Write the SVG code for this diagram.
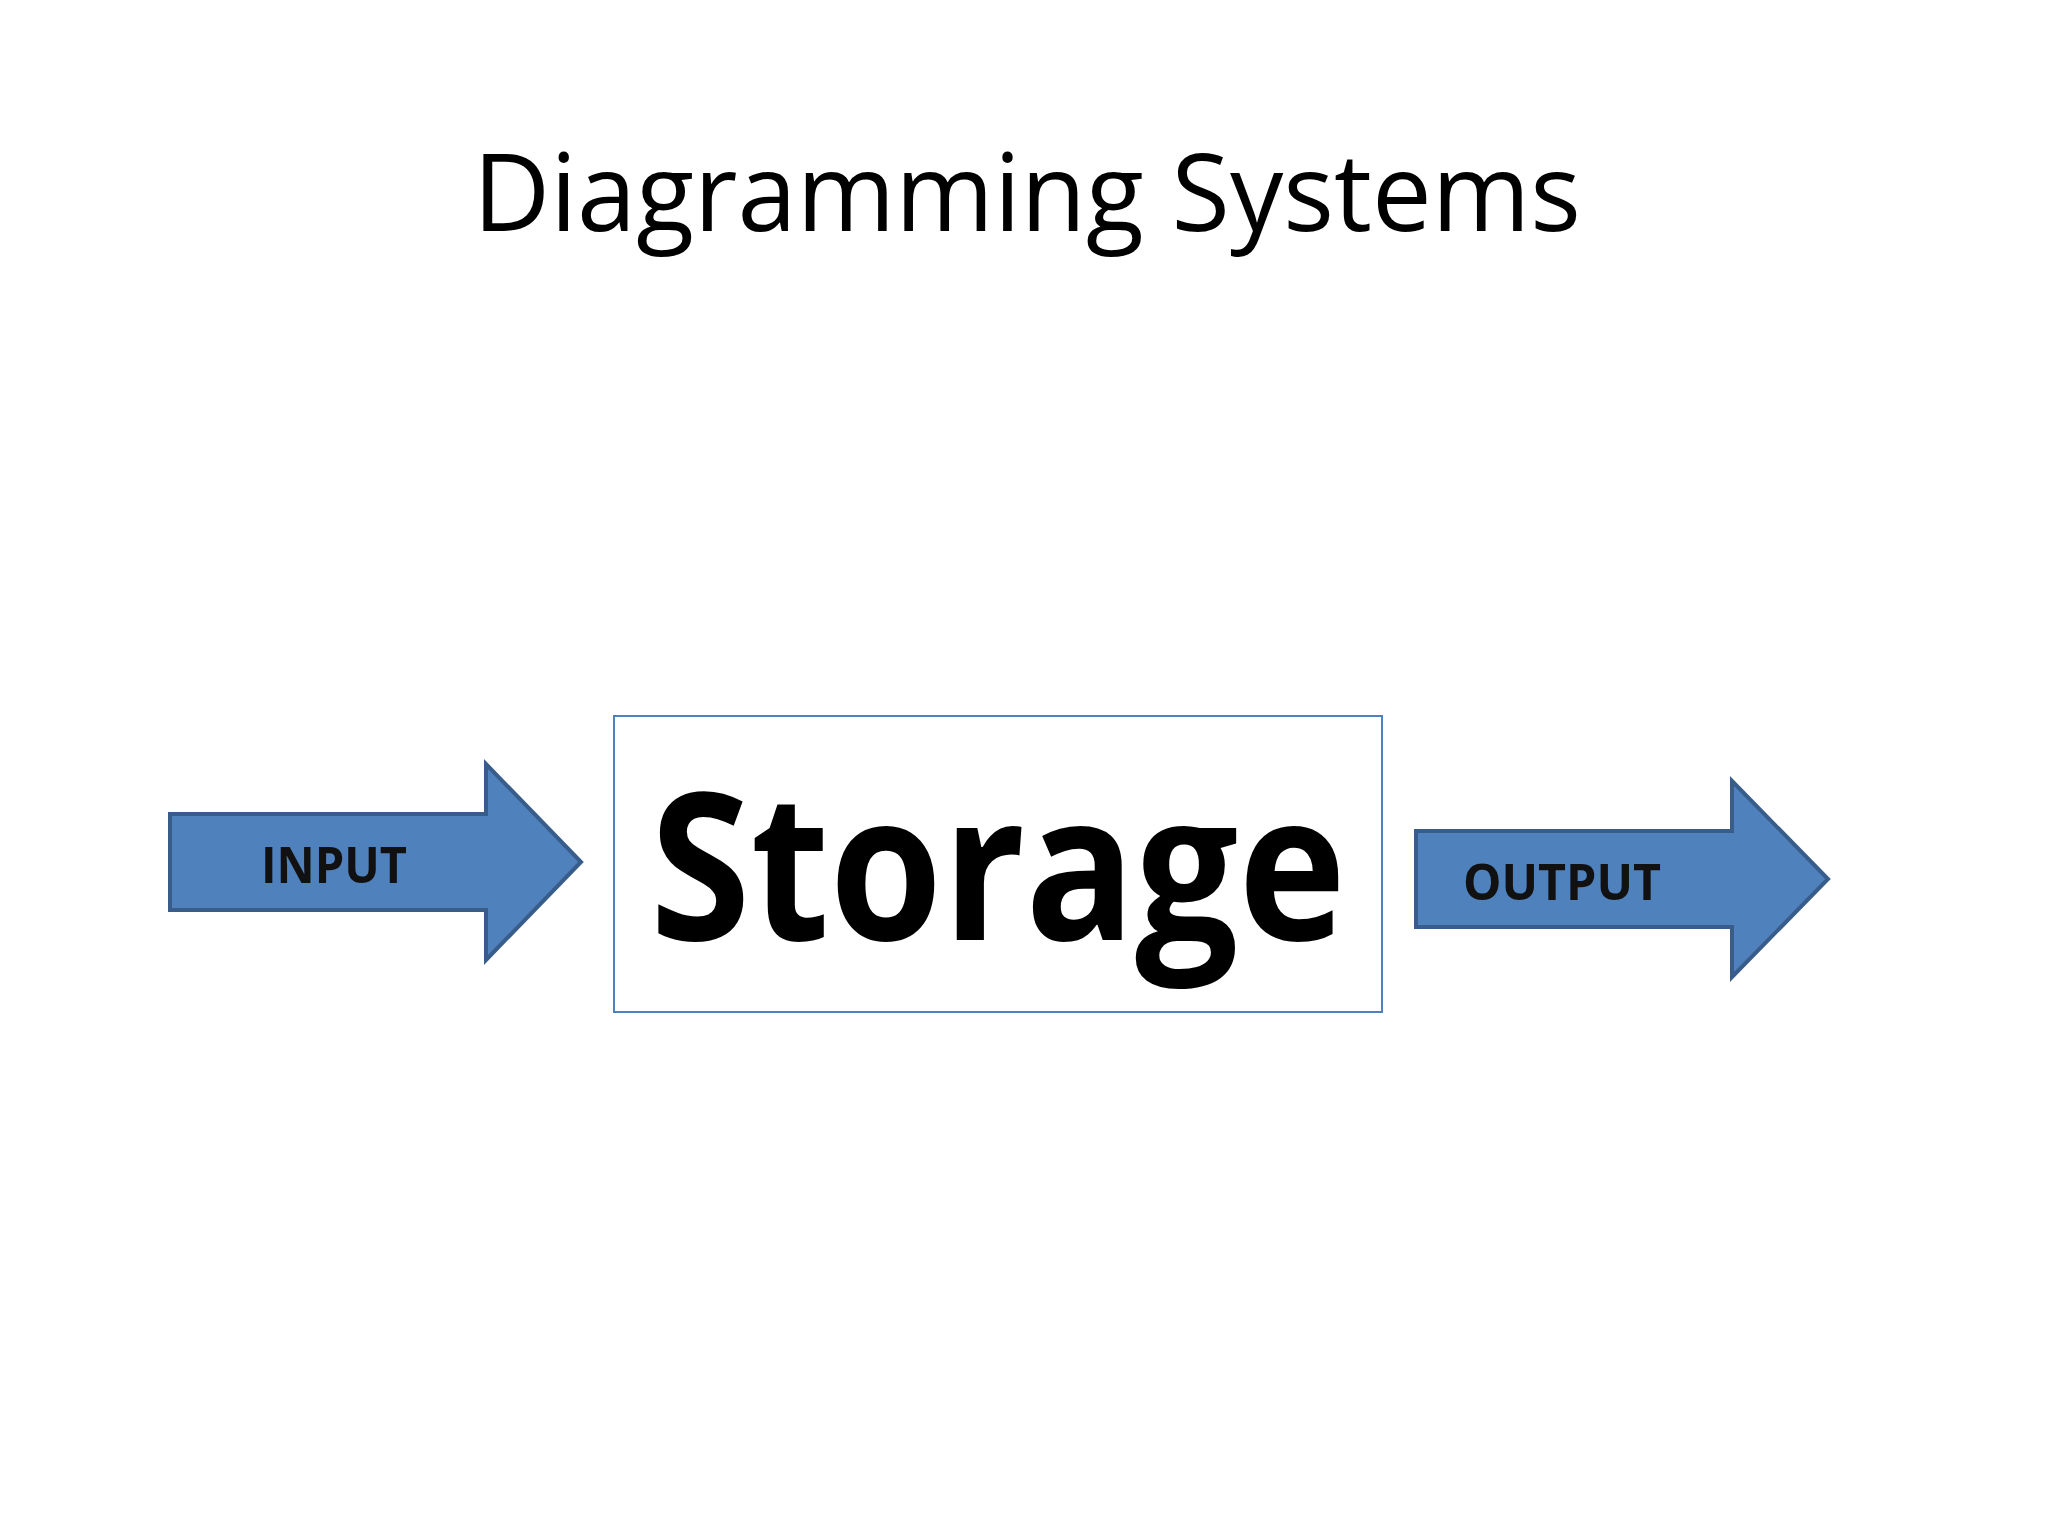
<svg xmlns="http://www.w3.org/2000/svg" width="2048" height="1536" viewBox="0 0 2048 1536">
<style>
.arrow{fill:#4F81BD;stroke:#385D8A;stroke-width:4}
.lbl{font-family:"Open Sans","Liberation Sans",sans-serif;font-weight:bold;font-size:50px;fill:#111}
</style>
<rect width="2048" height="1536" fill="#fff"/>
<text id="title" x="1027" y="231" text-anchor="middle" font-family="Open Sans, Liberation Sans, sans-serif" font-size="108" textLength="1108" lengthAdjust="spacingAndGlyphs">Diagramming Systems</text>
<g id="connectors">
<g id="input">
<path class="arrow" d="M170,814 H486 V764 L581,862 L486,960 V910 H170 Z"/>
<text class="lbl" x="334" y="883" text-anchor="middle" textLength="146" lengthAdjust="spacingAndGlyphs">INPUT</text>
</g>
<g id="output">
<path class="arrow" d="M1416,831 H1732 V781 L1828,879 L1732,977 V927 H1416 Z"/>
<text class="lbl" x="1562" y="900" text-anchor="middle" textLength="198" lengthAdjust="spacingAndGlyphs">OUTPUT</text>
</g>
</g>
<g id="storage">
<rect x="614" y="716" width="768" height="296" fill="#fff" stroke="#4F81BD" stroke-width="2"/>
<text x="998" y="940" text-anchor="middle" font-family="Open Sans, Liberation Sans, sans-serif" font-weight="bold" font-size="205" textLength="696" lengthAdjust="spacingAndGlyphs">Storage</text>
</g>
</svg>
